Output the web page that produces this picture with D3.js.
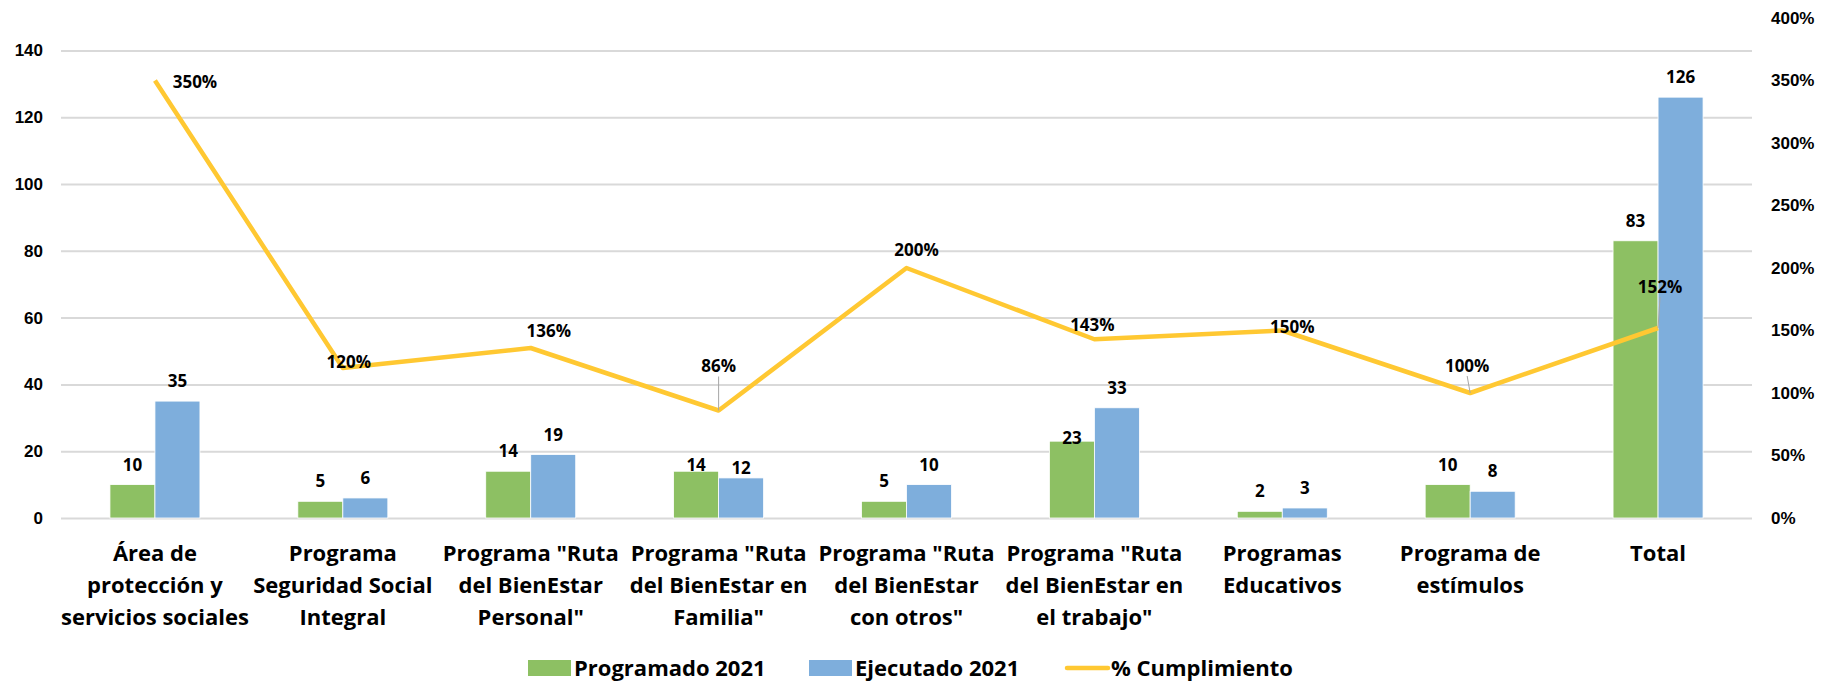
<!DOCTYPE html>
<html>
<head>
<meta charset="utf-8">
<script src="https://cdn.jsdelivr.net/npm/d3@7"></script>
<style>
  body { margin: 0; background: #fff; }
  svg { font-family: "Open Sans", Lato, sans-serif; font-weight: bold; }
</style>
</head>
<body>
<svg width="1832" height="683"></svg>
<script>
const categories = [
    ["Área de", "protección y", "servicios sociales"],
    ["Programa", "Seguridad Social", "Integral"],
    ["Programa \"Ruta", "del BienEstar", "Personal\""],
    ["Programa \"Ruta", "del BienEstar en", "Familia\""],
    ["Programa \"Ruta", "del BienEstar", "con otros\""],
    ["Programa \"Ruta", "del BienEstar en", "el trabajo\""],
    ["Programas", "Educativos"],
    ["Programa de", "estímulos"],
    ["Total"]
]
const programado = [10, 5, 14, 14, 5, 23, 2, 10, 83]
const ejecutado = [35, 6, 19, 12, 10, 33, 3, 8, 126]
const cumplimiento = [3.5, 1.2, 1.36, 0.86, 2.0, 1.43, 1.5, 1.0, 1.52]
const leftTicks = [0, 20, 40, 60, 80, 100, 120, 140]
const rightTicks = [0, 0.5, 1, 1.5, 2, 2.5, 3, 3.5, 4]
const seriesNames = ["Programado 2021", "Ejecutado 2021", "% Cumplimiento"]

// hand-placed label offsets, as in the original
const pctNudge = [[40, 2], [6, -6], [18, -17], [0, -44], [10, -18], [-2, -14], [10, -3], [-3, -27], [2, -41]]
const pctLeader = [false, false, false, true, false, false, false, true, true]
const progNudge = [0, 0, 0, 14, 0, 0, 0, 0, 0]
const ejecNudge = [0, 0, 0, 10, 0, 0, 0, 0, 0]
const progNudgeInBar = [0, 0, 0, 0, 0, 17, 0, 0, 0]

const green = "#8DC063", blue = "#7EAEDC", gold = "#FFC832"

const svg = d3.select("svg")
const plotLeft = 61, plotRight = 1752, plotTop = 17, plotBottom = 518

const xScale = d3.scaleBand().domain(d3.range(categories.length)).range([plotLeft, plotRight])
const yScale = d3.scaleLinear().domain([0, 150]).range([plotBottom, plotTop])
const pScale = d3.scaleLinear().domain([0, 4]).range([plotBottom, plotTop + 1])
const barW = 45

// gridlines
const yAxis = d3.axisLeft(yScale).tickValues(leftTicks).tickSize(-(plotRight - plotLeft)).tickPadding(18)
svg.append("g")
    .attr("id", "yAxisG")
    .attr("transform", `translate(${plotLeft}, 0)`)
    .call(yAxis)
svg.select("#yAxisG").selectAll("line").attr("stroke", "#D9D9D9").attr("stroke-width", 2)
svg.select("#yAxisG").selectAll("text").style("font-size", "17px").attr("fill", "#000")

const pAxis = d3.axisRight(pScale).tickValues(rightTicks).tickSize(0).tickPadding(19)
    .tickFormat(d => Math.round(d * 100) + "%")
svg.append("g")
    .attr("id", "pAxisG")
    .attr("transform", `translate(${plotRight}, 0)`)
    .call(pAxis)
svg.select("#pAxisG").selectAll("text").style("font-size", "17px").attr("fill", "#000")
svg.selectAll("path.domain").style("display", "none")

// bars
const chart = svg.append("g").attr("id", "chartArea")
const cx = i => xScale(i) + xScale.bandwidth() / 2

chart.selectAll("rect.prog")
    .data(programado)
    .enter()
    .append("rect")
    .attr("class", "prog")
    .attr("x", (d, i) => cx(i) - barW)
    .attr("y", d => yScale(d))
    .attr("width", barW)
    .attr("height", d => plotBottom - yScale(d))
    .attr("fill", green)
    .attr("stroke", "#fff")
    .attr("stroke-width", 0.8)

chart.selectAll("rect.ejec")
    .data(ejecutado)
    .enter()
    .append("rect")
    .attr("class", "ejec")
    .attr("x", (d, i) => cx(i))
    .attr("y", d => yScale(d))
    .attr("width", barW)
    .attr("height", d => plotBottom - yScale(d))
    .attr("fill", blue)
    .attr("stroke", "#fff")
    .attr("stroke-width", 0.8)

// bar labels
chart.selectAll("text.progLbl")
    .data(programado)
    .enter()
    .append("text")
    .attr("x", (d, i) => cx(i) - barW / 2)
    .attr("y", (d, i) => yScale(d) - 14 + progNudge[i] + progNudgeInBar[i])
    .attr("text-anchor", "middle")
    .style("font-size", "17px")
    .text(d => d)

chart.selectAll("text.ejecLbl")
    .data(ejecutado)
    .enter()
    .append("text")
    .attr("x", (d, i) => cx(i) + barW / 2)
    .attr("y", (d, i) => yScale(d) - 14 + ejecNudge[i])
    .attr("text-anchor", "middle")
    .style("font-size", "17px")
    .text(d => d)

// line
const line = d3.line()
    .x((d, i) => cx(i))
    .y(d => pScale(d))

chart.append("path")
    .attr("d", line(cumplimiento))
    .attr("fill", "none")
    .attr("stroke", gold)
    .attr("stroke-width", 4.5)
    .attr("stroke-linejoin", "round")

cumplimiento.forEach((d, i) => {
    const px = cx(i), py = pScale(d)
    const tx = px + pctNudge[i][0], ty = py + pctNudge[i][1]
    if (pctLeader[i]) {
        chart.append("line")
            .attr("x1", px).attr("y1", py)
            .attr("x2", tx).attr("y2", ty + 10)
            .attr("stroke", "#A6A6A6")
            .attr("stroke-width", 1)
    }
    chart.append("text")
        .attr("x", tx)
        .attr("y", ty)
        .attr("dy", "0.35em")
        .attr("text-anchor", "middle")
        .style("font-size", "17px")
        .text(Math.round(d * 100) + "%")
})

// category labels
categories.forEach((lines, i) => {
    const t = svg.append("text")
        .attr("x", cx(i))
        .attr("y", 553)
        .attr("text-anchor", "middle")
        .style("font-size", "22px")
    lines.forEach((s, j) => {
        t.append("tspan")
            .attr("x", cx(i))
            .attr("y", 553 + j * 32)
            .attr("dy", "0.35em")
            .text(s)
    })
})

// legend
const legend = svg.append("g").attr("id", "legend")
const legendX = [528, 809, 1065]
seriesNames.forEach((name, i) => {
    const g = legend.append("g").attr("transform", `translate(${legendX[i]}, 668)`)
    if (i < 2) {
        g.append("rect")
            .attr("x", 0).attr("y", -8)
            .attr("width", 43).attr("height", 16)
            .attr("fill", i == 0 ? green : blue)
    } else {
        g.append("line")
            .attr("x1", 2).attr("x2", 43)
            .attr("stroke", gold)
            .attr("stroke-width", 4.5)
            .attr("stroke-linecap", "round")
    }
    g.append("text")
        .attr("x", 46)
        .attr("dy", "0.35em")
        .style("font-size", "22px")
        .text(name)
})
</script>
</body>
</html>
